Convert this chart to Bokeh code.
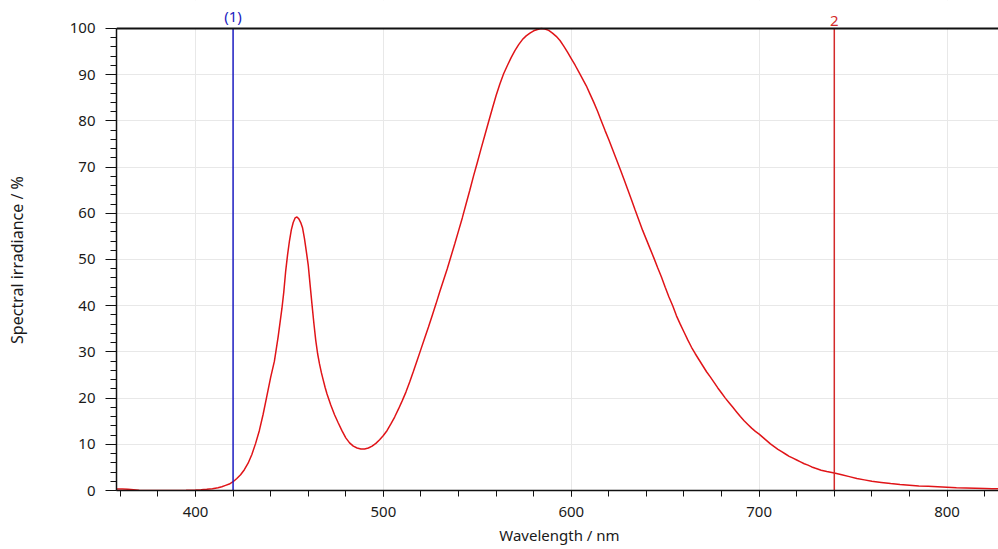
from bokeh.plotting import figure
from bokeh.models import Span, SingleIntervalTicker, Range1d, ColumnDataSource, BoxAnnotation
from bokeh.core.properties import value
from bokeh.embed import file_html
from bokeh.resources import INLINE

# ---- data ----
wavelength_nm = [358, 361, 364, 367, 370, 375, 380, 385, 390, 395, 400, 403, 406, 409, 412, 414,
                 416, 418, 420, 422, 424, 426, 428, 430, 432, 434, 436, 438, 440, 442, 444, 446,
                 447, 448, 449, 450, 451, 452, 453, 454, 455, 456, 457, 458, 459, 460, 461, 462,
                 463, 464, 465, 466, 467, 468, 469, 470, 472, 474, 476, 478, 480, 482, 484, 486,
                 488, 490, 492, 494, 496, 498, 500, 502, 504, 506, 508, 510, 512, 514, 516, 518,
                 520, 522, 524, 526, 528, 530, 532, 534, 536, 538, 540, 542, 544, 546, 548, 550,
                 552, 554, 556, 558, 560, 562, 564, 566, 568, 570, 572, 574, 576, 578, 580, 582,
                 584, 586, 588, 590, 592, 594, 596, 598, 600, 602, 604, 606, 608, 610, 612, 614,
                 616, 618, 620, 622, 624, 626, 628, 630, 632, 634, 636, 638, 640, 642, 644, 646,
                 648, 650, 652, 654, 656, 658, 660, 662, 664, 666, 668, 670, 672, 674, 676, 678,
                 680, 682, 684, 686, 688, 690, 692, 694, 696, 698, 700, 702, 704, 706, 708, 710,
                 712, 714, 716, 718, 720, 722, 724, 726, 728, 730, 733, 736, 740, 744, 748, 752,
                 756, 760, 765, 770, 775, 780, 785, 790, 795, 800, 805, 810, 815, 820, 824, 828]
irradiance_pct = [0.3, 0.35, 0.25, 0.15, 0.05, 0.02, 0.02, 0.02, 0.02, 0.05, 0.1, 0.15, 0.25, 0.4, 0.6, 0.8,
                  1.1, 1.4, 1.9, 2.6, 3.4, 4.5, 5.9, 7.8, 10.2, 13.0, 16.5, 20.5, 24.5, 28.0, 33.3, 39.4,
                  43.0, 47.5, 51.0, 54.0, 56.4, 58.0, 59.0, 59.2, 58.8, 58.0, 56.8, 54.5, 51.7, 48.8, 44.5, 40.3,
                  36.2, 32.5, 29.6, 27.4, 25.5, 23.9, 22.3, 20.9, 18.5, 16.4, 14.6, 12.9, 11.4, 10.3, 9.6, 9.2,
                  9.0, 9.0, 9.2, 9.6, 10.2, 11.0, 11.9, 13.0, 14.4, 15.9, 17.6, 19.4, 21.3, 23.5, 25.8, 28.2,
                  30.6, 33.0, 35.4, 37.9, 40.4, 43.0, 45.5, 48.0, 50.7, 53.4, 56.2, 59.0, 62.0, 65.0, 68.1, 71.0,
                  74.0, 76.9, 79.8, 82.7, 85.5, 88.0, 90.2, 92.0, 93.7, 95.2, 96.5, 97.6, 98.4, 99.0, 99.5, 99.8,
                  100.0, 99.9, 99.6, 99.0, 98.3, 97.4, 96.2, 94.9, 93.5, 92.1, 90.6, 89.1, 87.6, 85.8, 84.0, 82.1,
                  80.0, 77.9, 75.9, 73.8, 71.7, 69.6, 67.4, 65.2, 63.0, 60.7, 58.5, 56.3, 54.3, 52.3, 50.3, 48.2,
                  46.2, 44.0, 41.9, 40.0, 37.8, 36.0, 34.3, 32.6, 31.0, 29.6, 28.3, 27.0, 25.7, 24.6, 23.4, 22.2,
                  21.1, 20.0, 19.0, 18.0, 17.0, 16.0, 15.1, 14.3, 13.5, 12.8, 12.2, 11.5, 10.8, 10.1, 9.5, 8.9,
                  8.4, 7.9, 7.4, 7.0, 6.6, 6.2, 5.8, 5.5, 5.1, 4.8, 4.4, 4.1, 3.8, 3.4, 3.0, 2.6,
                  2.3, 2.0, 1.75, 1.5, 1.3, 1.15, 1.0, 0.9, 0.8, 0.7, 0.6, 0.55, 0.5, 0.45, 0.4, 0.35]

marker_positions = [420, 740]
marker_labels = ["(1)", "2"]
marker_colors = ["#1c1cc0", "#d42a2a"]

x_label = "Wavelength / nm"
y_label = "Spectral irradiance / %"

x_start, x_end = 357.95, 827.4
y_start, y_end = 0, 100
y_view_end = 106.06   # room above the 100 line for the marker labels

FONT = "Noto Sans"

p = figure(width=998, height=549, output_backend="svg", toolbar_location=None,
           x_range=Range1d(x_start, x_end), y_range=Range1d(y_start, y_view_end),
           min_border_left=116, min_border_right=0, min_border_top=0, min_border_bottom=59)
p.outline_line_color = None
p.background_fill_color = "white"
p.border_fill_color = "white"

# grid styling
p.xgrid.grid_line_color = "#e8e8e8"
p.ygrid.grid_line_color = "#e8e8e8"
p.xgrid.grid_line_width = 1
p.ygrid.grid_line_width = 1

# hide the grid above the 100 line
p.add_layout(BoxAnnotation(bottom=y_end, fill_color="white", fill_alpha=1.0,
                           line_color=None, level="underlay"))

src = ColumnDataSource(dict(x=wavelength_nm, y=irradiance_pct))
p.line("x", "y", source=src, line_color="#e01418", line_width=1.5)

# markers
msrc = ColumnDataSource(dict(x=marker_positions, y0=[y_start] * len(marker_positions),
                             y1=[y_end] * len(marker_positions),
                             label=marker_labels, color=marker_colors))
p.segment(x0="x", y0="y0", x1="x", y1="y1", source=msrc, line_color="color", line_width=1.5)
p.text(x="x", y="y1", text="label", source=msrc, text_color="color",
       text_align="center", text_baseline="bottom", y_offset=-2,
       text_font=value(FONT), text_font_size="15px")

# top border line
p.add_layout(Span(location=y_end, dimension="width", line_color="#111111", line_width=2))

# axes
p.xaxis.ticker = SingleIntervalTicker(interval=100, num_minor_ticks=5)
p.yaxis.ticker = SingleIntervalTicker(interval=10, num_minor_ticks=5)
p.yaxis.bounds = (y_start, y_end)

for ax in (p.xaxis[0], p.yaxis[0]):
    ax.axis_line_color = "#111111"
    ax.axis_line_width = 1.5
    ax.major_tick_line_color = "#111111"
    ax.minor_tick_line_color = "#111111"
    ax.major_tick_in = 0
    ax.minor_tick_in = 0
    ax.major_label_text_font = FONT
    ax.major_label_text_font_size = "15px"
    ax.major_label_text_color = "#1a1a1a"
    ax.axis_label_text_font = FONT
    ax.axis_label_text_font_style = "normal"
    ax.axis_label_text_color = "#1a1a1a"

p.xaxis.major_tick_out = 6
p.xaxis.minor_tick_out = 6
p.xaxis.major_label_standoff = 10
p.xaxis.axis_label = "\u00a0" + x_label
p.xaxis.axis_label_text_font_size = "15px"
p.xaxis.axis_label_standoff = 5

p.yaxis.major_tick_out = 11
p.yaxis.minor_tick_out = 6
p.yaxis.major_label_standoff = 10
# trailing no-break spaces centre the label on the 0-100 part of the axis
p.yaxis.axis_label = y_label + "\u00a0" * 7
p.yaxis.axis_label_text_font_size = "16px"
p.yaxis.axis_label_standoff = 39

open("out.html", "w").write(file_html(p, INLINE))
